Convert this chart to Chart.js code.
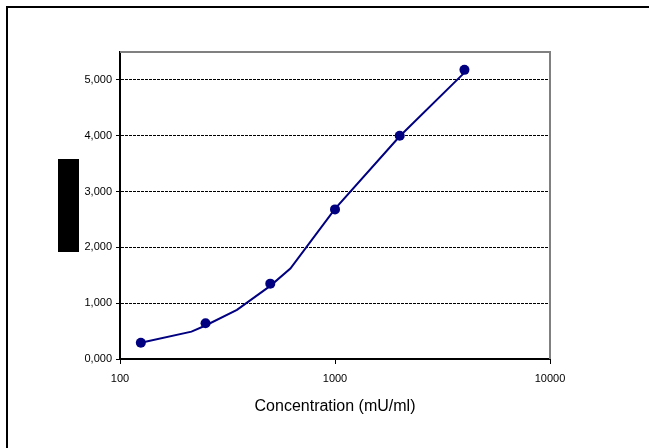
<!DOCTYPE html>
<html>
<head>
<meta charset="utf-8">
<script src="https://cdn.jsdelivr.net/npm/chart.js@4/dist/chart.umd.min.js"></script>
<style>
  html, body { margin: 0; padding: 0; background: #fff; overflow: hidden; }
  #frame { position: absolute; left: 6px; top: 6px; width: 700px; height: 500px; border: 2px solid #000; }
  #ytitle { position: absolute; left: 58px; top: 159px; width: 21px; height: 93px; background: #000; }
  #wrap { position: absolute; left: 0; top: 0; width: 649px; height: 448px; }
</style>
</head>
<body>
<div id="frame"></div>
<div id="wrap"><canvas id="chart" width="649" height="448"></canvas></div>
<div id="ytitle"></div>
<script>
// measured points
const concentrations = [125, 250, 500, 1000, 2000, 4000];
const signal = [0.29, 0.64, 1.35, 2.68, 4.00, 5.18];

// fitted curve vertices
const curveX = [125, 215, 250, 350, 500, 620, 1000, 2000, 4000];
const curveY = [0.29, 0.49, 0.60, 0.88, 1.31, 1.62, 2.69, 3.99, 5.13];

const xTicks = [100, 1000, 10000];
const yTicks = [0, 1, 2, 3, 4, 5];

const navy = '#000080';
const font = { family: '"Liberation Sans", Arial, sans-serif', size: 11 };

// gray top/right frame of the plot area (Excel style)
const plotFrame = {
    id: 'plotFrame',
    beforeDatasetsDraw(chart) {
        const { ctx, chartArea: a } = chart;
        ctx.save();
        ctx.strokeStyle = '#808080';
        ctx.lineWidth = 2;
        ctx.beginPath();
        ctx.moveTo(a.left, a.top);
        ctx.lineTo(a.right, a.top);
        ctx.lineTo(a.right, a.bottom);
        ctx.stroke();
        ctx.restore();
    }
};

new Chart(document.getElementById('chart'), {
    type: 'scatter',
    data: {
        datasets: [
            {
                label: 'Fit',
                data: curveX.map((x, i) => ({ x: x, y: curveY[i] })),
                showLine: true,
                borderColor: navy,
                borderWidth: 2,
                pointRadius: 0,
                tension: 0,
                order: 2
            },
            {
                label: 'Standards',
                data: concentrations.map((x, i) => ({ x: x, y: signal[i] })),
                backgroundColor: navy,
                borderColor: navy,
                pointRadius: 5,
                pointBorderWidth: 0,
                order: 1
            }
        ]
    },
    options: {
        responsive: false,
        animation: false,
        layout: { padding: { left: 0, right: 99, top: 52, bottom: 29 } },
        plugins: { legend: { display: false }, tooltip: { enabled: false } },
        scales: {
            x: {
                type: 'logarithmic',
                min: 100,
                max: 10000,
                afterBuildTicks: s => { s.ticks = xTicks.map(v => ({ value: v })); },
                afterFit: s => { s.height = 60; },
                ticks: {
                    callback: v => String(v),
                    color: '#000',
                    font: font,
                    padding: 8,
                    maxRotation: 0,
                    autoSkip: false
                },
                grid: { drawOnChartArea: false, color: '#000', tickLength: 5 },
                border: { color: '#000', width: 2 },
                title: {
                    display: true,
                    text: 'Concentration (mU/ml)',
                    color: '#000',
                    font: { family: font.family, size: 16 },
                    padding: { top: 4, bottom: 3 }
                }
            },
            y: {
                min: 0,
                max: 5.5,
                afterBuildTicks: s => { s.ticks = yTicks.map(v => ({ value: v })); },
                afterFit: s => { s.width = 120; },
                ticks: {
                    callback: v => v.toFixed(3).replace('.', ','),
                    color: '#000',
                    font: font,
                    padding: 4
                },
                grid: { color: '#000', lineWidth: 1, tickLength: 4 },
                border: { color: '#000', width: 2, dash: [3, 1] }
            }
        }
    },
    plugins: [plotFrame]
});
</script>
</body>
</html>
